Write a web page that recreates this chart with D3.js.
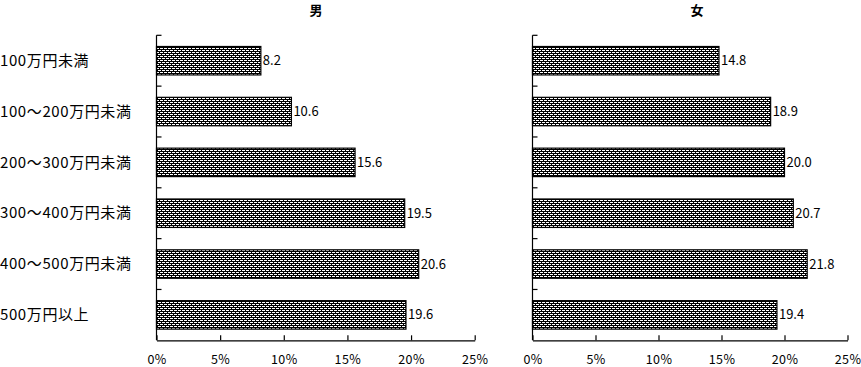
<!DOCTYPE html>
<html><head><meta charset="utf-8">
<script src="https://cdn.jsdelivr.net/npm/d3@7"></script>
<style>
body{margin:0;background:#fff;}
svg{display:block;}
text{font-family:"Noto Sans CJK JP","Noto Sans",sans-serif;fill:#000;}
</style></head>
<body><svg id="c" width="861" height="367"></svg>
<script>
const categories = ["100万円未満","100～200万円未満","200～300万円未満","300～400万円未満","400～500万円未満","500万円以上"];
const maleValues = [8.2, 10.6, 15.6, 19.5, 20.6, 19.6];
const femaleValues = [14.8, 18.9, 20.0, 20.7, 21.8, 19.4];
const panelTitles = ["男","女"];
const tickValues = [0,5,10,15,20,25];
const tickLabels = ["0%","5%","10%","15%","20%","25%"];

const svg = d3.select("#c");
const defs = svg.append("defs");
const pat = defs.append("pattern").attr("id","hatch").attr("patternUnits","userSpaceOnUse")
  .attr("width",4).attr("height",4);
pat.append("rect").attr("width",4).attr("height",4).attr("fill","#000");
pat.append("rect").attr("x",0).attr("y",0).attr("width",3).attr("height",1).attr("fill","#fff");
pat.append("rect").attr("x",2).attr("y",2).attr("width",3).attr("height",1).attr("fill","#fff");
pat.append("rect").attr("x",-2).attr("y",2).attr("width",3).attr("height",1).attr("fill","#fff");

const plotTop = 35.3, plotBottom = 340.3;
const y = d3.scaleBand().domain(categories).range([plotTop,plotBottom]).paddingInner(0.44).paddingOuter(0.22);

const panels = [
  {x0:156.5, x1:474.7, values:maleValues, title:panelTitles[0], tx:316},
  {x0:532.5, x1:847.5, values:femaleValues, title:panelTitles[1], tx:697}
];

panels.forEach(p=>{
  const x = d3.scaleLinear().domain([0,25]).range([p.x0,p.x1]);
  const g = svg.append("g");
  g.selectAll("rect.bar").data(categories).join("rect").attr("class","bar")
    .attr("x",x(0)).attr("y",d=>y(d))
    .attr("width",(d,i)=>x(p.values[i])-x(0))
    .attr("height",y.bandwidth())
    .attr("fill","url(#hatch)").attr("stroke","#000").attr("stroke-width",1.2);
  g.selectAll("text.val").data(categories).join("text").attr("class","val")
    .attr("x",(d,i)=>x(p.values[i])+2).attr("y",d=>y(d)+y.bandwidth()/2)
    .attr("dy","0.35em").attr("font-size",13).attr("fill","#111")
    .text((d,i)=>p.values[i].toFixed(1));
  g.append("line").attr("x1",p.x0).attr("x2",p.x0).attr("y1",plotTop).attr("y2",plotBottom).attr("stroke","#000").attr("stroke-width",1.2);
  const yt = d3.range(categories.length).map(i=>plotTop + i*y.step());
  g.selectAll("line.yt").data(yt).join("line").attr("class","yt")
    .attr("x1",p.x0).attr("x2",p.x0+5).attr("y1",d=>d).attr("y2",d=>d)
    .attr("stroke","#000").attr("stroke-width",1.2);
  const ax = d3.axisBottom(x).tickValues(tickValues).tickSizeInner(-5).tickSizeOuter(0)
    .tickFormat((d,i)=>tickLabels[i]);
  const axg = g.append("g").attr("transform",`translate(0,${plotBottom})`).call(ax);
  axg.select(".domain").attr("stroke","#000").attr("stroke-width",1.2);
  axg.selectAll(".tick line").attr("stroke","#000").attr("stroke-width",1.2);
  axg.selectAll(".tick text").attr("y",20).attr("dy","0.32em").attr("font-size",12.5)
    .attr("letter-spacing",0.4)
    .attr("font-family","'Noto Sans CJK JP',sans-serif").attr("fill","#000");
  svg.append("text").attr("x",p.tx).attr("y",15).attr("text-anchor","middle")
    .attr("font-size",13).attr("font-weight","bold").text(p.title);
});

svg.selectAll("text.cat").data(categories).join("text").attr("class","cat")
  .attr("x",0).attr("y",d=>y(d)+y.bandwidth()/2).attr("dy","0.35em")
  .attr("font-size",15).attr("letter-spacing",0.6).text(d=>d);
</script></body></html>
